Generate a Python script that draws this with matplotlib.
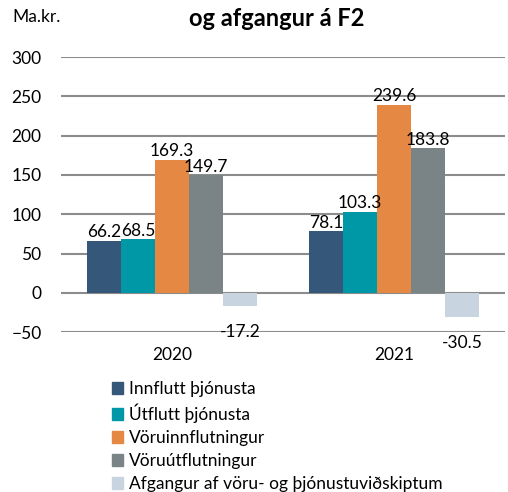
import matplotlib
matplotlib.use("Agg")
import matplotlib.pyplot as plt
import numpy as np
from matplotlib.patches import Patch

plt.rcParams['font.family'] = ['Lato', 'DejaVu Sans']

# data
years = ["2020", "2021"]
series = ["Innflutt þjónusta", "Útflutt þjónusta", "Vöruinnflutningur",
          "Vöruútflutningur", "Afgangur af vöru- og þjónustuviðskiptum"]
innflutt = [66.2, 78.1]
utflutt = [68.5, 103.3]
voruinn = [169.3, 239.6]
voruut = [149.7, 183.8]
afgangur = [-17.2, -30.5]
colors = ["#34577A", "#0097A7", "#E48844", "#7A8486", "#C8D4E0"]

values = [innflutt, utflutt, voruinn, voruut, afgangur]

fig = plt.figure(figsize=(5.08, 4.92), dpi=100)
ax = fig.add_axes([0.12, 0.325, 0.874, 0.559])

fs = 12.5
x = np.arange(len(years))
w = 0.153
for i, vals in enumerate(values):
    pos = x + (i - 2) * w
    ax.bar(pos, vals, width=w, color=colors[i], zorder=3)
    for p, v in zip(pos, vals):
        if v >= 0:
            ax.text(p, v + 0.5, f"{v:.1f}", ha="center", va="bottom", fontsize=fs, zorder=4)
        else:
            ax.text(p, v - 33, f"{v:.1f}", ha="center", va="center", fontsize=fs, zorder=4)

ax.set_xlim(-0.5, 1.5)
ax.set_ylim(-50, 300)
ax.set_yticks(np.arange(-50, 301, 50))
ax.set_xticks(x)
ax.set_xticklabels(years, fontsize=fs)
ax.tick_params(axis="y", labelsize=fs, length=0, pad=14)
ax.tick_params(axis="x", length=0, pad=11)
ax.yaxis.grid(True, color="#8C8C8C", linewidth=1.5, zorder=0)
for s in ax.spines.values():
    s.set_visible(False)

fig.text(0.025, 0.965, "Ma.kr.", fontsize=fs, va="center")
fig.text(0.545, 0.963, "og afgangur á F2", fontsize=17, fontweight="bold", ha="center", va="center")

handles = [Patch(color=c) for c in colors]
fig.legend(handles, series, loc="upper left", bbox_to_anchor=(0.22, 0.226), frameon=False,
           fontsize=fs, handlelength=0.65, handleheight=0.65, handletextpad=0.35,
           labelspacing=0.4, borderaxespad=0, borderpad=0)

plt.savefig("out.png", dpi=100)
